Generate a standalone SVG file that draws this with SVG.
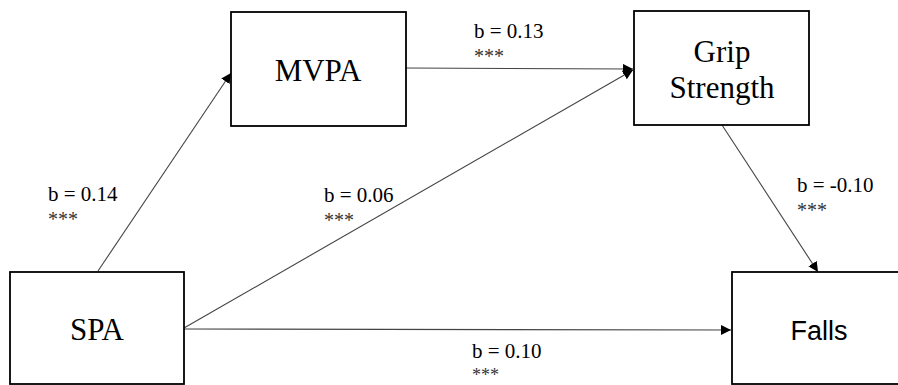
<svg xmlns="http://www.w3.org/2000/svg" width="898" height="385" viewBox="0 0 898 385">
<style>
.box{fill:#fff;stroke:#000;stroke-width:1.8}
.lbl{font-family:'Liberation Serif','Times New Roman','DejaVu Serif',serif;font-size:31px;fill:#000;text-anchor:middle}
.sans{font-family:'Liberation Sans',Arial,sans-serif;font-size:27px;fill:#000;text-anchor:middle}
.b{font-family:'Liberation Serif','Times New Roman','DejaVu Serif',serif;font-size:21px;fill:#000}
.s{font-family:'Liberation Serif','Times New Roman','DejaVu Serif',serif;font-size:20px;fill:#333}
.c{stroke:#444;stroke-width:1.1;fill:none;marker-end:url(#ah)}
</style>
<defs>
<marker id="ah" viewBox="0 0 10 10" refX="10" refY="5" markerWidth="10" markerHeight="10" markerUnits="userSpaceOnUse" orient="auto">
<path d="M0,0 L10,5 L0,10 z" fill="#000"/>
</marker>
</defs>
<rect width="898" height="385" fill="#fff"/>
<g id="connectors">
<line class="c" x1="98" y1="271" x2="231" y2="73"/>
<line class="c" x1="406" y1="68" x2="633" y2="69"/>
<line class="c" x1="184" y1="328" x2="633" y2="70"/>
<line class="c" x1="184" y1="329" x2="731" y2="330"/>
<line class="c" x1="722" y1="125" x2="818" y2="272"/>
</g>
<g id="SPA">
<rect class="box" x="10" y="272" width="174" height="112"/>
<text class="lbl" x="97" y="340">SPA</text>
</g>
<g id="MVPA">
<rect class="box" x="231" y="12" width="175" height="114"/>
<text class="lbl" x="318" y="81">MVPA</text>
</g>
<g id="GripStrength">
<rect class="box" x="634" y="11" width="175" height="114"/>
<text class="lbl" x="722" y="62">Grip</text>
<text class="lbl" x="722" y="98">Strength</text>
</g>
<g id="Falls">
<rect class="box" x="732" y="272" width="170" height="112"/>
<text class="sans" x="819" y="340">Falls</text>
</g>
<g id="labels">
<text class="b" x="48" y="201">b = 0.14</text>
<text class="s" x="48" y="226">***</text>
<text class="b" x="324" y="202">b = 0.06</text>
<text class="s" x="324" y="227">***</text>
<text class="b" x="474" y="38">b = 0.13</text>
<text class="s" x="474" y="63">***</text>
<text class="b" x="472" y="358">b = 0.10</text>
<text class="s" x="472" y="381" style="font-size:18px">***</text>
<text class="b" x="797" y="192">b = -0.10</text>
<text class="s" x="797" y="217">***</text>
</g>
</svg>
